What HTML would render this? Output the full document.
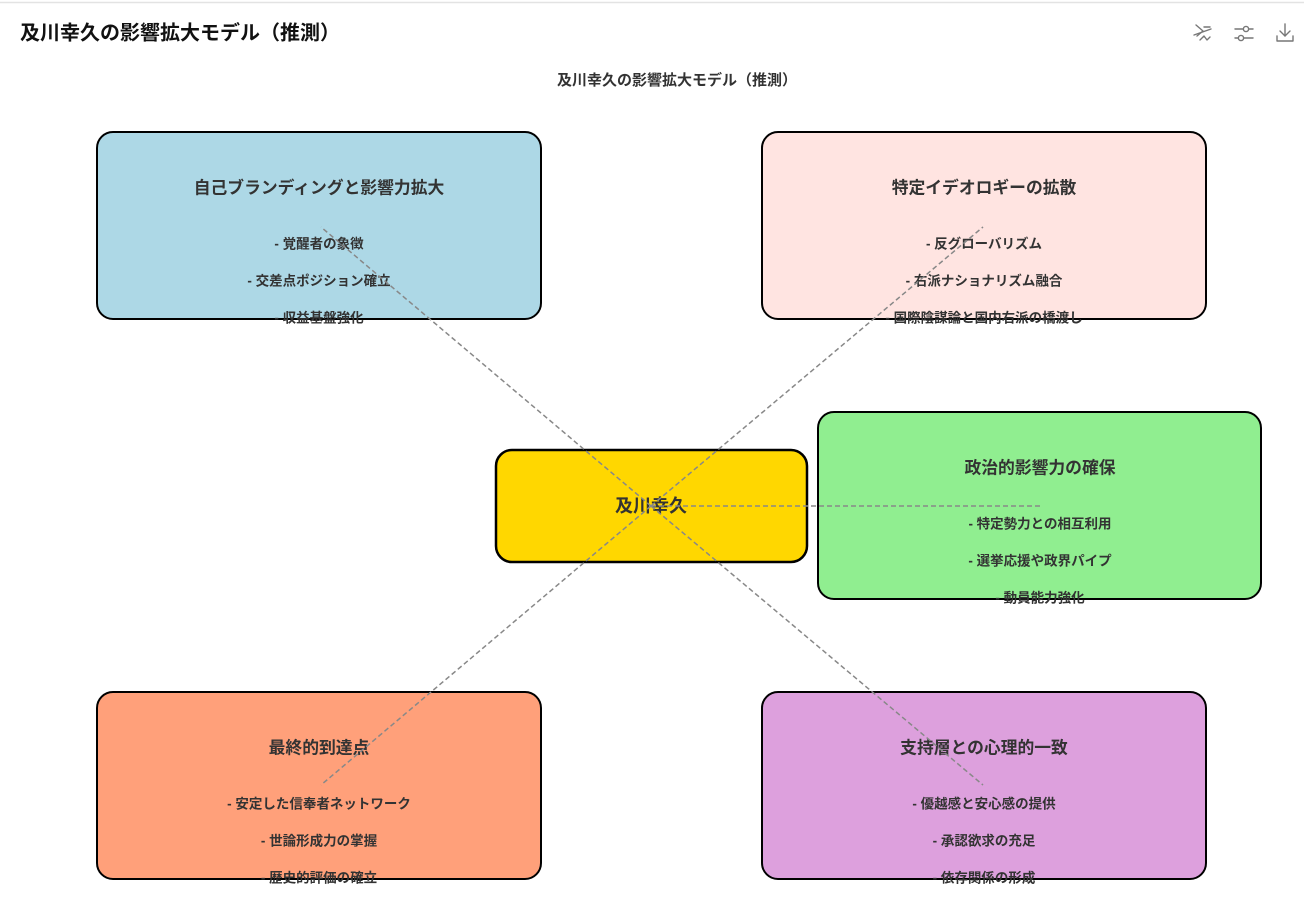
<!DOCTYPE html>
<html><head><meta charset="utf-8">
<style>
html,body{margin:0;padding:0;background:#fff;}
body{width:1304px;height:914px;overflow:hidden;position:relative;font-family:"Liberation Sans","Noto Sans CJK JP",sans-serif;}
svg text{font-family:"Liberation Sans","Noto Sans CJK JP",sans-serif;}
</style></head>
<body>
<svg width="1304" height="914" viewBox="0 0 1304 914" xmlns="http://www.w3.org/2000/svg" style="position:absolute;left:0;top:0">
  <rect x="0" y="0" width="1304" height="914" fill="#fff"/>
  <line x1="0" y1="2.5" x2="1304" y2="2.5" stroke="#e3e3e3" stroke-width="1.5"/>
  <text x="20" y="34" font-size="20" font-weight="bold" fill="#111" dominant-baseline="middle">及川幸久の影響拡大モデル（推測）</text>

  <!-- icons -->
  <g fill="none" stroke="#777" stroke-width="1.4" stroke-linecap="round" stroke-linejoin="round">
    <path d="M1196 25 L1203 31 L1197 36"/>
    <path d="M1200 40 L1204 36 L1207 40 L1210 37"/>
    <path d="M1194 35 L1211 29"/>
    <path d="M1204 27 L1210 27"/>
    <line x1="1235" y1="29" x2="1243" y2="29"/>
    <circle cx="1246" cy="29" r="2.6"/>
    <line x1="1249" y1="29" x2="1253" y2="29"/>
    <line x1="1235" y1="38" x2="1238" y2="38"/>
    <circle cx="1241" cy="38" r="2.6"/>
    <line x1="1244" y1="38" x2="1253" y2="38"/>
    <line x1="1285" y1="24" x2="1285" y2="36"/>
    <path d="M1280 31 L1285 36 L1290 31"/>
    <path d="M1277 36 L1277 41 L1293 41 L1293 36"/>
  </g>

  <text x="677" y="81" font-size="15" font-weight="bold" fill="#333" text-anchor="middle" dominant-baseline="middle">及川幸久の影響拡大モデル（推測）</text>

  <!-- boxes -->
  <g stroke="#000" stroke-width="2">
    <rect x="97" y="132" width="444" height="187" rx="16" fill="#ADD8E6"/>
    <rect x="762" y="132" width="444" height="187" rx="16" fill="#FFE4E1"/>
    <rect x="818" y="412" width="443" height="187" rx="16" fill="#90EE90"/>
    <rect x="496" y="450" width="311" height="112" rx="16" fill="#FFD700" stroke-width="2.5"/>
    <rect x="97" y="692" width="444" height="187" rx="16" fill="#FFA07A"/>
    <rect x="762" y="692" width="444" height="187" rx="16" fill="#DDA0DD"/>
  </g>

  <g fill="#333" font-weight="bold" text-anchor="middle" dominant-baseline="middle">
    <text x="319" y="189" font-size="16.8">自己ブランディングと影響力拡大</text>
    <text x="319" y="245" font-size="13.5">- 覚醒者の象徴</text>
    <text x="319" y="282" font-size="13.5">- 交差点ポジション確立</text>
    <text x="319" y="319" font-size="13.5">- 収益基盤強化</text>

    <text x="984" y="189" font-size="16.8">特定イデオロギーの拡散</text>
    <text x="984" y="245" font-size="13.5">- 反グローバリズム</text>
    <text x="984" y="282" font-size="13.5">- 右派ナショナリズム融合</text>
    <text x="984" y="319" font-size="13.5">- 国際陰謀論と国内右派の橋渡し</text>

    <text x="1040" y="469" font-size="16.8">政治的影響力の確保</text>
    <text x="1040" y="525" font-size="13.5">- 特定勢力との相互利用</text>
    <text x="1040" y="562" font-size="13.5">- 選挙応援や政界パイプ</text>
    <text x="1040" y="599" font-size="13.5">- 動員能力強化</text>

    <text x="651" y="507" font-size="18">及川幸久</text>

    <text x="319" y="749" font-size="16.8">最終的到達点</text>
    <text x="319" y="805" font-size="13.5">- 安定した信奉者ネットワーク</text>
    <text x="319" y="842" font-size="13.5">- 世論形成力の掌握</text>
    <text x="319" y="879" font-size="13.5">- 歴史的評価の確立</text>

    <text x="984" y="749" font-size="16.8">支持層との心理的一致</text>
    <text x="984" y="805" font-size="13.5">- 優越感と安心感の提供</text>
    <text x="984" y="842" font-size="13.5">- 承認欲求の充足</text>
    <text x="984" y="879" font-size="13.5">- 依存関係の形成</text>
  </g>

  <!-- connectors -->
  <g stroke="#888" stroke-width="1.5" stroke-dasharray="5,3" fill="none">
    <line x1="651" y1="506" x2="321" y2="227"/>
    <line x1="651" y1="506" x2="983" y2="227"/>
    <line x1="651" y1="506" x2="1040" y2="506"/>
    <line x1="651" y1="506" x2="321" y2="785"/>
    <line x1="651" y1="506" x2="983" y2="785"/>
  </g>
</svg>
</body></html>
